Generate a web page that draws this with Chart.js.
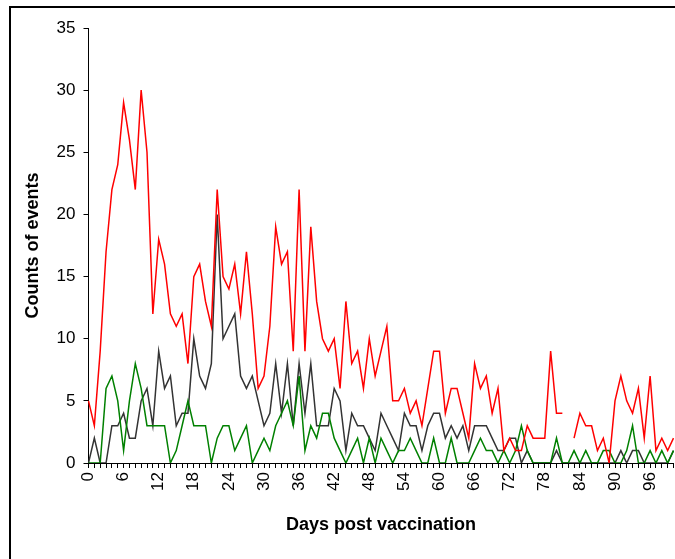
<!DOCTYPE html>
<html>
<head>
<meta charset="utf-8">
<script src="https://cdn.jsdelivr.net/npm/chart.js@4"></script>
<style>
  html, body { margin: 0; padding: 0; background: #fff; overflow: hidden; }
  #wrap { position: relative; width: 675px; height: 559px; overflow: hidden; }
  #frame { position: absolute; left: 9px; top: 6px; width: 700px; height: 600px;
           border-left: 2px solid #000; border-top: 2px solid #000; }
  canvas { position: absolute; left: 0; top: 0; }
</style>
</head>
<body>
<div id="wrap">
  <div id="frame"></div>
  <canvas id="chart" width="675" height="559"></canvas>
</div>
<script>
// days 0..100 after vaccination
const days = Array.from({ length: 101 }, (_, i) => i);
const xTickLabels = [0, 6, 12, 18, 24, 30, 36, 42, 48, 54, 60, 66, 72, 78, 84, 90, 96];
const yTicks = [0, 5, 10, 15, 20, 25, 30, 35];

// counts per day (null = no value)
const redCounts = [
    5, 3, 9, 17, 22, 24, 29, 26, 22, 30, 25, 12, 18, 16, 12, 11, 12,
    8, 15, 16, 13, 11, 22, 15, 14, 16, 12, 17, 12, 6, 7, 11,
    19, 16, 17, 9, 22, 9, 19, 13, 10, 9, 10, 6, 13, 8, 9, 6, 10, 7,
    9, 11, 5, 5, 6, 4, 5, 3, 6, 9, 9, 4, 6, 6, 4, 2,
    8, 6, 7, 4, 6, 1, 2, 1, 1, 3, 2, 2, 2, 9, 4, 4,
    null,
    2, 4, 3, 3, 1, 2, 0, 5, 7, 5, 4, 6, 2, 7, 1, 2, 1, 2
];
const blackCounts = [
    0, 2, 0, 0, 3, 3, 4, 2, 2, 5, 6, 3, 9, 6, 7, 3, 4,
    4, 10, 7, 6, 8, 20, 10, 11, 12, 7, 6, 7, 5, 3, 4,
    8, 4, 8, 3, 8, 4, 8, 3, 3, 3, 6, 5, 1, 4, 3, 3, 2, 1,
    4, 3, 2, 1, 4, 3, 3, 1, 3, 4, 4, 2, 3, 2, 3, 1,
    3, 3, 3, 2, 1, 1, 2, 2, 0, 1, 0, 0, 0, 0, 1, 0,
    0, 0, 0, 0, 0, 0, 0, 0, 0, 1, 0, 1, 1, 0, 0, 0, 0, 0, 1
];
const greenCounts = [
    0, 0, 0, 6, 7, 5, 1, 5, 8, 6, 3, 3, 3, 3, 0, 1, 3,
    5, 3, 3, 3, 0, 2, 3, 3, 1, 2, 3, 0, 1, 2, 1,
    3, 4, 5, 3, 7, 1, 3, 2, 4, 4, 2, 1, 0, 1, 2, 0, 2, 0,
    2, 1, 0, 1, 1, 2, 1, 0, 0, 2, 0, 0, 2, 0, 0, 0,
    1, 2, 1, 1, 0, 1, 0, 1, 3, 1, 0, 0, 0, 0, 2, 0,
    0, 1, 0, 1, 0, 0, 1, 1, 0, 0, 1, 3, 0, 0, 1, 0, 1, 0, 1
];

const font = "'Liberation Sans', Arial, sans-serif";

function line(data, color) {
    return {
        data: data,
        borderColor: color,
        borderWidth: 1.5,
        pointRadius: 0,
        tension: 0,
        spanGaps: false,
        fill: false
    };
}

let ctx = document.getElementById("chart").getContext("2d");

new Chart(ctx, {
    type: "line",
    data: {
        labels: days,
        datasets: [
            line(redCounts, "#ff0000"),
            line(greenCounts, "#008000"),
            line(blackCounts, "#333333")
        ]
    },
    options: {
        responsive: false,
        animation: false,
        layout: { padding: { left: 14, top: 28, right: 1.5, bottom: 0 } },
        plugins: { legend: { display: false }, tooltip: { enabled: false } },
        scales: {
            x: {
                offset: false,
                grid: { drawOnChartArea: false, drawTicks: true, tickLength: 5, color: "#000" },
                border: { color: "#000", width: 1 },
                ticks: {
                    autoSkip: false,
                    minRotation: 90,
                    maxRotation: 90,
                    padding: 4,
                    color: "#000",
                    font: { family: font, size: 17 },
                    callback: (v, i) => xTickLabels.includes(days[i]) ? String(days[i]) : ""
                },
                title: {
                    display: true,
                    text: "Days post vaccination",
                    color: "#000",
                    font: { family: font, size: 18, weight: "bold" },
                    padding: { top: 0, bottom: 23 }
                },
                afterFit: s => {
                    s.height = 96;
                    s.paddingLeft = 0;
                    s.paddingRight = 0;
                }
            },
            y: {
                min: 0,
                max: 35,
                afterBuildTicks: s => { s.ticks = yTicks.map(v => ({ value: v })); },
                grid: { drawOnChartArea: false, drawTicks: true, tickLength: 5, color: "#000" },
                border: { color: "#000", width: 1 },
                ticks: {
                    padding: 8,
                    color: "#000",
                    font: { family: font, size: 17 }
                },
                title: {
                    display: true,
                    text: "Counts of events",
                    color: "#000",
                    font: { family: font, size: 18, weight: "bold" },
                    padding: { top: 8, bottom: 0 }
                },
                afterFit: s => { s.width = 74.5; }
            }
        }
    }
});
</script>
</body>
</html>
